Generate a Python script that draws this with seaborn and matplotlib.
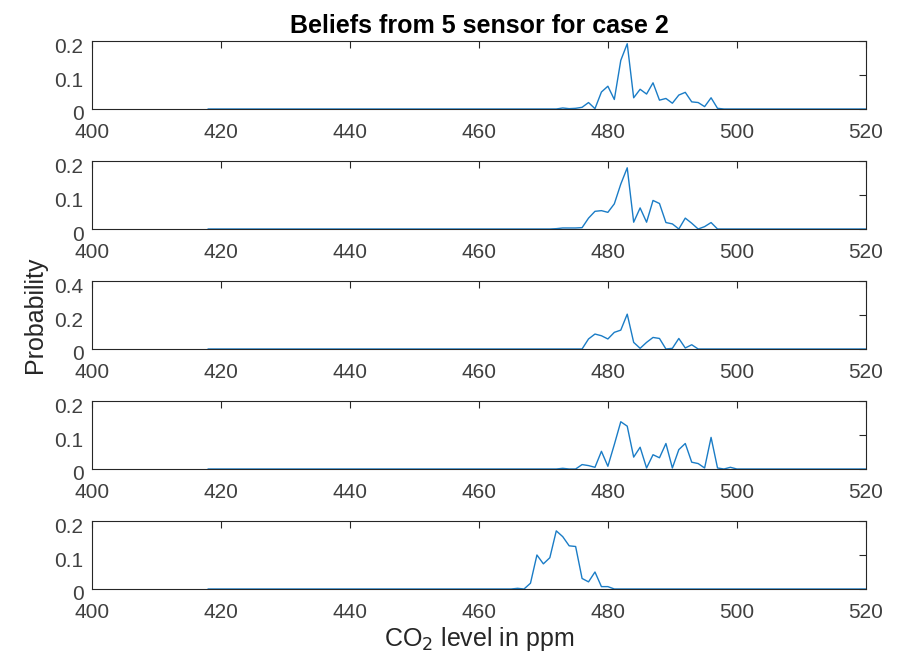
import numpy as np
import pandas as pd
import matplotlib
matplotlib.use('Agg')
import matplotlib.pyplot as plt
import matplotlib.transforms as mtransforms
import seaborn as sns

sns.set_style('white')
plt.rcParams['font.family'] = ['Liberation Sans', 'DejaVu Sans']

# CO2 grid (ppm) and beliefs of each sensor
ppm_start, ppm_end = 418, 520
peak_start = 466  # values below are for 466..500, everything else is 0
sensor1 = [0, 0, 0, 0, 0, 0, 0, 0.003, 0.001, 0.002, 0.005, 0.019, 0.001, 0.05, 0.067,
           0.028, 0.143, 0.192, 0.033, 0.058, 0.044, 0.077, 0.026, 0.031, 0.017, 0.041,
           0.049, 0.021, 0.019, 0.007, 0.033, 0.002, 0, 0, 0]
sensor2 = [0, 0, 0, 0, 0, 0, 0.001, 0.003, 0.003, 0.003, 0.004, 0.032, 0.052, 0.054, 0.049,
           0.074, 0.132, 0.18, 0.02, 0.062, 0.02, 0.084, 0.075, 0.019, 0.015, 0.0,
           0.032, 0.017, 0.0, 0.007, 0.019, 0, 0, 0, 0]
sensor3 = [0, 0, 0, 0, 0, 0, 0, 0, 0, 0, 0, 0.059, 0.088, 0.078, 0.059,
           0.098, 0.111, 0.205, 0.039, 0.004, 0.039, 0.068, 0.062, 0, 0.004, 0.062,
           0.006, 0.025, 0, 0, 0, 0, 0, 0, 0]
sensor4 = [0, 0, 0, 0, 0, 0, 0, 0.002, 0, 0, 0.013, 0.01, 0.005, 0.052, 0.008,
           0.072, 0.139, 0.126, 0.035, 0.064, 0.003, 0.042, 0.033, 0.075, 0.003, 0.057,
           0.075, 0.02, 0.016, 0.003, 0.093, 0.003, 0, 0.005, 0]
sensor5 = [0.002, 0, 0.017, 0.1, 0.074, 0.092, 0.171, 0.154, 0.127, 0.125, 0.031, 0.021,
           0.05, 0.007, 0.007, 0, 0, 0, 0, 0, 0, 0, 0, 0, 0, 0,
           0, 0, 0, 0, 0, 0, 0, 0, 0]
sensors = [sensor1, sensor2, sensor3, sensor4, sensor5]
ylims = [0.2, 0.2, 0.4, 0.2, 0.2]
yticks = [[0, 0.1, 0.2], [0, 0.1, 0.2], [0, 0.2, 0.4], [0, 0.1, 0.2], [0, 0.1, 0.2]]
ytick_labels = [['0', '0.1', '0.2'], ['0', '0.1', '0.2'], ['0', '0.2', '0.4'],
                ['0', '0.1', '0.2'], ['0', '0.1', '0.2']]
xticks = [400, 420, 440, 460, 480, 500, 520]

ppm = np.arange(ppm_start, ppm_end + 1)
rows = []
for i, vals in enumerate(sensors):
    full = np.zeros(len(ppm))
    full[peak_start - ppm_start: peak_start - ppm_start + len(vals)] = vals
    rows.append(pd.DataFrame({'ppm': ppm, 'prob': full, 'sensor': i + 1}))
df = pd.concat(rows, ignore_index=True)

fig = plt.figure(figsize=(9.01, 6.64), dpi=100)
axcol = '#262626'
left, width, height = 0.102, 0.859, 0.1024
# MATLAB puts y tick labels a little below the tick
ydown = mtransforms.ScaledTranslation(0, -4 / 100, fig.dpi_scale_trans)
for i in range(5):
    bottom = 1 - (109 + 120 * i) / 664
    ax = fig.add_axes([left, bottom, width, height])
    sns.lineplot(data=df[df['sensor'] == i + 1], x='ppm', y='prob', ax=ax,
                 color='#1a7cc6', linewidth=1.0)
    ax.set_xlim(400, 520)
    ax.set_ylim(0, ylims[i])
    ax.set_xticks(xticks)
    ax.set_xticklabels([str(t) for t in xticks])
    ax.set_yticks(yticks[i])
    ax.set_yticklabels(ytick_labels[i])
    ax.tick_params(direction='in', top=True, right=True, length=5, width=0.8,
                   colors=axcol, labelsize=15, labelcolor='#404040')
    ax.tick_params(axis='x', pad=10)
    ax.tick_params(axis='y', pad=6)
    for lab in ax.get_yticklabels():
        lab.set_transform(lab.get_transform() + ydown)
    for s in ax.spines.values():
        s.set_color(axcol)
        s.set_linewidth(0.8)
    ax.set_xlabel('')
    ax.set_ylabel('')
    if i == 0:
        ax.set_title('Beliefs from 5 sensor for case 2', fontsize=18, fontweight='bold',
                     color='black', pad=6)
    if i == 2:
        ax.set_ylabel('Probability', fontsize=18, color='#262626', labelpad=5)
    if i == 4:
        ax.set_xlabel('CO$_2$ level in ppm', fontsize=18, color='#262626', labelpad=2)

fig.savefig('out.png', dpi=100)
